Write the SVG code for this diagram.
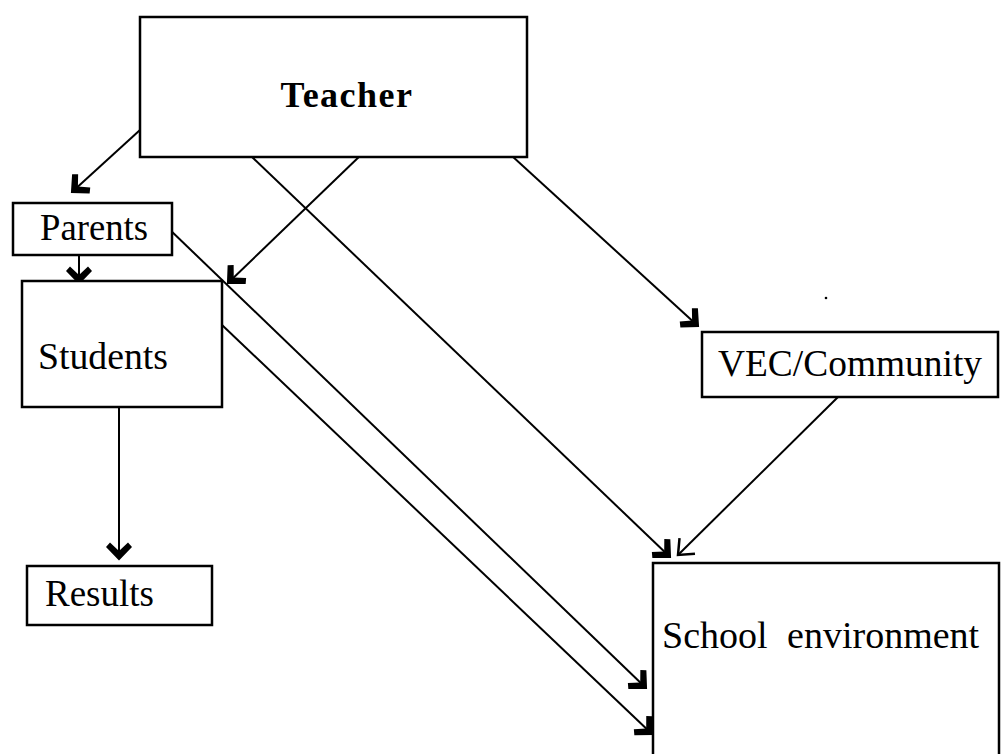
<svg xmlns="http://www.w3.org/2000/svg" width="1001" height="754" viewBox="0 0 1001 754">
  <style>
    .box { fill: #fff; stroke: #000; stroke-width: 2.5; }
    .lbl { font-family: "Liberation Serif", "Times New Roman", serif; font-size: 38px; fill: #000; }
    .title { font-weight: bold; font-size: 36px; letter-spacing: 1.5px; }
    .edge { fill: none; stroke: #000; stroke-width: 2; }
    .bold { marker-end: url(#headBold); }
    .thin { marker-end: url(#headThin); }
  </style>
  <defs>
    <!-- heavy chevron head, tip at the origin -->
    <marker id="headBold" markerUnits="userSpaceOnUse" refX="0" refY="0" markerWidth="1" markerHeight="1" orient="auto" overflow="visible">
      <path d="M 1.5 0 L -12 -13 L -16.5 -9 L -8 0 L -16.5 9 L -12 13 Z" fill="#000"/>
    </marker>
    <!-- light open head -->
    <marker id="headThin" markerUnits="userSpaceOnUse" refX="0" refY="0" markerWidth="1" markerHeight="1" orient="auto" overflow="visible">
      <path d="M -13 -11 L 0 0 L -13 11" fill="none" stroke="#000" stroke-width="2.5"/>
    </marker>
  </defs>
  <rect width="1001" height="754" fill="#fff"/>

  <g id="connectors">
    <line class="edge bold" x1="140" y1="130" x2="72" y2="192"/>
    <line class="edge bold" x1="79" y1="255" x2="79" y2="283"/>
    <line class="edge bold" x1="363" y1="153" x2="228" y2="283"/>
    <line class="edge bold" x1="250" y1="155" x2="670" y2="557"/>
    <line class="edge thin" x1="838" y1="397" x2="678" y2="555"/>
    <line class="edge bold" x1="512" y1="156" x2="698" y2="326"/>
    <line class="edge bold" x1="167" y1="227" x2="646" y2="688"/>
    <line class="edge bold" x1="222" y1="325" x2="652" y2="734"/>
    <line class="edge bold" x1="119" y1="407" x2="119" y2="559"/>
  </g>

  <g id="teacher">
    <rect class="box" x="140" y="17" width="387" height="140"/>
    <text class="lbl title" x="347" y="107" text-anchor="middle">Teacher</text>
  </g>

  <g id="parents">
    <rect class="box" x="13" y="203" width="159" height="52"/>
    <text class="lbl" x="40" y="240" textLength="108" lengthAdjust="spacingAndGlyphs">Parents</text>
  </g>

  <g id="students">
    <rect class="box" x="22" y="281" width="200" height="126"/>
    <text class="lbl" x="38" y="369" textLength="130" lengthAdjust="spacingAndGlyphs">Students</text>
  </g>

  <g id="results">
    <rect class="box" x="27" y="566" width="185" height="59"/>
    <text class="lbl" x="45" y="606" textLength="109" lengthAdjust="spacingAndGlyphs">Results</text>
  </g>

  <g id="vec-community">
    <rect class="box" x="702" y="332" width="296" height="65"/>
    <text class="lbl" x="718" y="376" textLength="264" lengthAdjust="spacingAndGlyphs">VEC/Community</text>
  </g>

  <g id="school-environment">
    <rect class="box" x="653" y="563" width="346" height="200"/>
    <text class="lbl" x="662" y="648" word-spacing="10">School <tspan>environment</tspan></text>
  </g>

  <circle cx="826" cy="298" r="1.3" fill="#000"/>
</svg>
